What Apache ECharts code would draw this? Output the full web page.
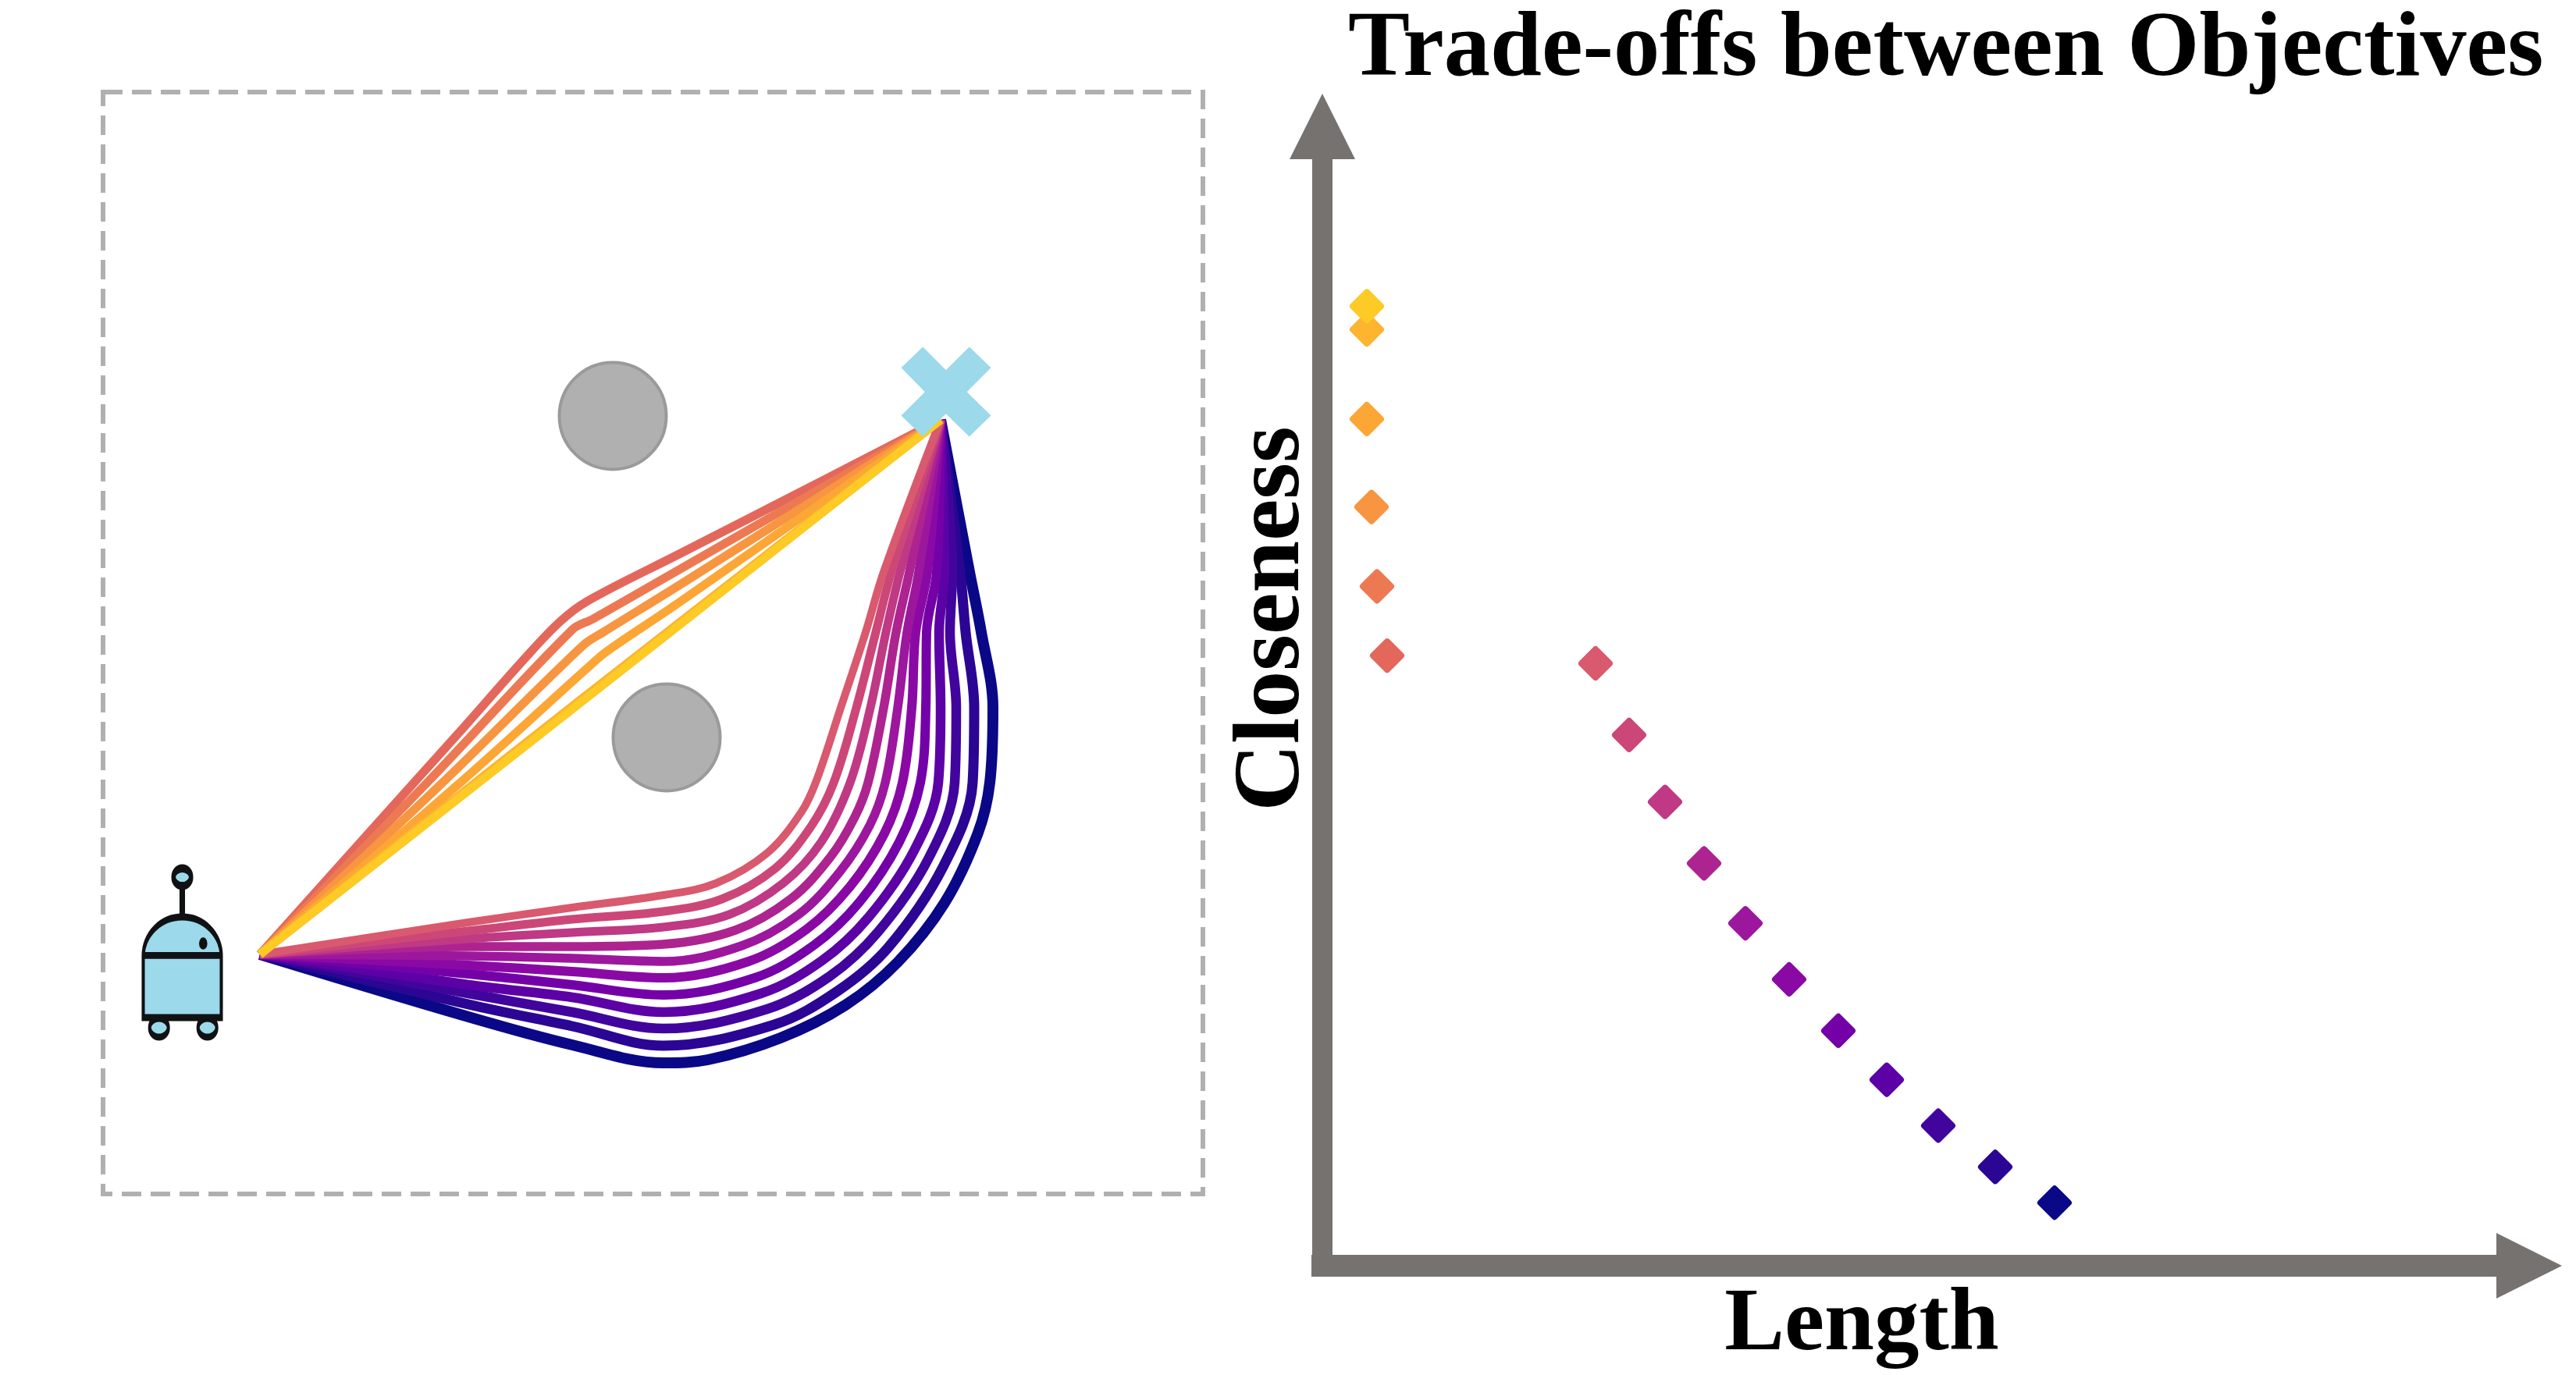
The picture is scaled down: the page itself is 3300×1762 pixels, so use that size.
<!DOCTYPE html>
<html><head><meta charset="utf-8">
<style>html,body{margin:0;padding:0;background:#fff}#c{width:3300px;height:1762px}</style>
<script src="https://cdn.jsdelivr.net/npm/echarts@6/dist/echarts.min.js"></script>
</head><body><div id="c"></div>
<script>
const titleText = 'Trade-offs between Objectives';
const xName = 'Length';
const yName = 'Closeness';

const colors = ['#fdca26','#fdb42f','#fca636','#f89540','#ed7953','#e4675c','#d9596e','#cc4778','#bf3984','#ad2490','#9c179e','#8a09a5','#7401a8','#5b01a5','#41049d','#2b0593','#0a0886'];

const lengths = [57,57,57,63,70,83,350,393,439,489,542,598,661,723,789,862,938];
const closeness = [1233,1203,1088,975,873,784,774,682,596,517,440,368,302,239,180,127,81];

const path01 = [[201,307],[1073,992]];
const path02 = [[201,307],[488,536],[738,732],[1073,992]];
const path03 = [[201,307],[461,530],[635,687],[655,702],[738,758],[1073,992]];
const path04 = [[201,307],[438,530],[615,703],[641,720],[738,780],[1073,992]];
const path05 = [[201,307],[418,530],[601,723],[628,737],[738,800],[1073,992]];
const path06 = [[201,307],[401,530],[455,590],[541,687],[585,733],[621,760],[738,820],[830,867],[1073,992]];
const path07 = [[201,307],[468,348],[601,367],[718,383],[785,398],[851,437],[895,490],[914,530],[945,623],[977,720],[1000,797],[1073,992]];
const path08 = [[201,307],[468,337],[601,352],[718,362],[793,378],[861,417],[907,471],[936,527],[965,623],[990,720],[1010,797],[1073,992]];
const path09 = [[201,307],[468,327],[601,335],[718,342],[802,358],[871,398],[920,451],[957,527],[983,623],[1003,720],[1021,797],[1073,992]];
const path10 = [[201,307],[468,317],[601,317],[718,320],[810,338],[881,378],[932,432],[963,483],[980,527],[1000,623],[1016,720],[1033,797],[1073,992]];
const path11 = [[201,307],[468,305],[601,302],[718,298],[818,318],[891,358],[944,413],[982,472],[1002,527],[1018,623],[1030,720],[1045,797],[1073,992]];
const path12 = [[201,307],[468,293],[601,285],[718,277],[827,298],[901,339],[957,394],[1001,462],[1024,527],[1036,623],[1041,720],[1056,797],[1073,992]];
const path13 = [[201,307],[468,282],[601,268],[718,255],[835,277],[911,319],[969,374],[1020,451],[1047,527],[1054,623],[1055,720],[1068,797],[1073,992]];
const path14 = [[201,307],[468,268],[601,252],[718,233],[843,257],[921,299],[981,355],[1039,440],[1070,527],[1073,623],[1071,720],[1078,797],[1073,992]];
const path15 = [[201,307],[468,257],[601,233],[718,212],[851,237],[931,279],[993,336],[1057,429],[1091,527],[1093,623],[1085,720],[1088,797],[1073,992]];
const path16 = [[201,307],[468,243],[601,215],[718,190],[860,217],[941,260],[1006,316],[1076,419],[1114,527],[1116,623],[1105,720],[1098,797],[1073,992]];
const path17 = [[201,307],[468,227],[601,191],[718,168],[775,172],[868,200],[951,242],[1018,297],[1078,373],[1121,463],[1136,527],[1140,623],[1125,720],[1110,797],[1073,992]];
const paths = [path01,path02,path03,path04,path05,path06,path07,path08,path09,path10,path11,path12,path13,path14,path15,path16,path17];
const widths = [11,11,11,11,11,11,10,11,11,11.5,11.5,12,12,12.5,12.5,13,14];

const obstacles = [[653,997],[722,585]];
const robot = [[101.5,309.5]];
const goal = [[1080,1028]];

const axisGrey = '#767270';
const font = '"Liberation Serif", serif';
const robotIcon = 'path://M0,113 A50,50 0 0 1 100,113 L100,192 L0,192 Z M0,112.3 L100,112.3'
  + ' M48.5,24 L48.5,63 M51.5,24 L51.5,63'
  + ' M38,12 A12,12 0 1 1 62,12 A12,12 0 1 1 38,12 Z M39.5,12 A10.5,10.5 0 1 1 60.5,12 A10.5,10.5 0 1 1 39.5,12 Z'
  + ' M8.2,205 A12,12 0 1 1 32.2,205 A12,12 0 1 1 8.2,205 Z M70.2,205 A12,12 0 1 1 94.2,205 A12,12 0 1 1 70.2,205 Z'
  + ' M73.5,97 A3.3,3.3 0 1 1 80.1,97 A3.3,3.3 0 1 1 73.5,97 Z';
const crossIcon = 'path://M62,0 L128,67 L195,0 L257,60 L188,130 L257,198 L195,259 L128,193 L62,259 L0,198 L68,130 L0,60 Z';

const series = [];
for (let i = paths.length - 1; i >= 0; i--) {
  series.push({type:'line', xAxisIndex:0, yAxisIndex:0, data:paths[i], smooth:0.35, showSymbol:false, silent:true,
    lineStyle:{color:colors[i], width:widths[i]}, z:3 + (paths.length - i) * 0.01});
}
series.push({type:'scatter', xAxisIndex:0, yAxisIndex:0, data:obstacles, symbol:'circle', symbolSize:137, silent:true,
  itemStyle:{color:'#b0b0b0', borderColor:'#9a9a9a', borderWidth:4, opacity:1}, z:2});
series.push({type:'scatter', xAxisIndex:0, yAxisIndex:0, data:robot, symbol:robotIcon, symbolSize:[100,217], silent:true,
  itemStyle:{color:'#9bd9eb', borderColor:'#101113', borderWidth:6, opacity:1}, z:4});
series.push({type:'scatter', xAxisIndex:0, yAxisIndex:0, data:goal, symbol:crossIcon, symbolSize:115, silent:true,
  itemStyle:{color:'#9bd9eb', opacity:1}, z:5});
for (let i = lengths.length - 1; i >= 0; i--) {
  series.push({type:'scatter', xAxisIndex:1, yAxisIndex:1, data:[[lengths[i], closeness[i]]], symbol:'diamond', symbolSize:[36,36], silent:true,
    itemStyle:{color:colors[i], borderColor:colors[i], borderWidth:8, borderJoin:'round', opacity:1}, z:3 + (lengths.length - i) * 0.01});
}

const chart = echarts.init(document.getElementById('c'), null, {renderer:'canvas', width:3300, height:1762});
chart.setOption({
  animation:false,
  backgroundColor:'#fff',
  title:{text:titleText, left:1722, top:1, textStyle:{fontFamily:font, fontWeight:'bold', fontSize:118.5, color:'#000'}},
  grid:[
    {left:132, top:118, width:1409, height:1412, show:true, borderColor:'#b0b0b0', borderWidth:6, borderType:[25,12], backgroundColor:'transparent'},
    {left:1694, top:162, width:1546, height:1464, show:false}
  ],
  xAxis:[
    {type:'value', gridIndex:0, min:0, max:1409, show:false},
    {type:'value', gridIndex:1, min:0, max:1546, name:xName, nameLocation:'middle', nameGap:20,
      nameTextStyle:{fontFamily:font, fontWeight:'bold', fontSize:115, color:'#000', padding:[0,164,0,0]},
      axisLine:{show:true, onZero:false, symbol:['none','triangle'], symbolSize:[84,84], lineStyle:{color:axisGrey, width:28, cap:'square'}},
      axisTick:{show:false}, axisLabel:{show:false}, splitLine:{show:false}}
  ],
  yAxis:[
    {type:'value', gridIndex:0, min:0, max:1412, show:false},
    {type:'value', gridIndex:1, min:0, max:1464, name:yName, nameLocation:'middle', nameGap:2,
      nameTextStyle:{fontFamily:font, fontWeight:'bold', fontSize:120, color:'#000', padding:[0,0,0,198]},
      axisLine:{show:true, onZero:false, symbol:['none','triangle'], symbolSize:[84,84], lineStyle:{color:axisGrey, width:26}},
      axisTick:{show:false}, axisLabel:{show:false}, splitLine:{show:false}}
  ],
  series:series
});
</script></body></html>
